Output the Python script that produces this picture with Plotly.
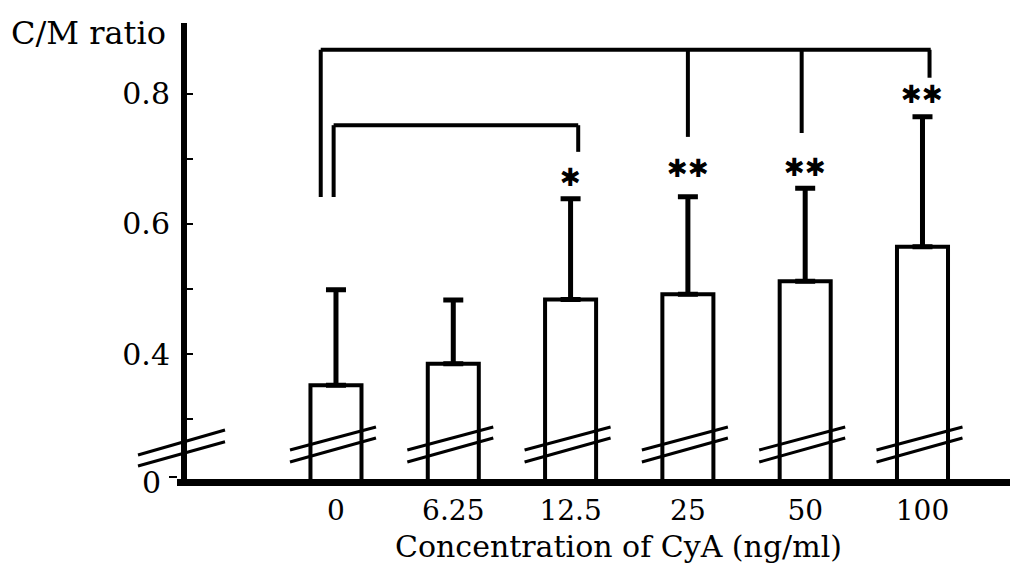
import plotly.graph_objects as go

# ---- data ----
categories = ["0", "6.25", "12.5", "25", "50", "100"]
means = [0.352, 0.385, 0.484, 0.492, 0.512, 0.565]
sds = [0.147, 0.098, 0.155, 0.150, 0.143, 0.200]
y_tick_vals = [0.3, 0.4, 0.5, 0.6, 0.7, 0.8]
y_tick_text = ["", "0.4", "", "0.6", "", "0.8"]

# significance: (category index, star text, star y)
sig_labels = ["*", "**", "**", "**"]
sig_idx = [2, 3, 4, 5]
sig_star_y = [0.672, 0.685, 0.687, 0.799]
# bracket levels (data units)
outer_top = 0.868
outer_left_bottom = 0.6415
inner_top = 0.752
inner_left_bottom = 0.6415
drop_bottoms = [0.711, 0.734, 0.740, 0.825]   # for 12.5 (inner), 25, 50, 100 (outer)

FONT = "DejaVu Serif"
W, H = 1010, 565
ML, MR, MT, MB = 187, 0, 23, 86
plot_h = H - MT - MB
plot_w = W - ML - MR

y_range = [0.2077, 0.9092]
x_range = [-1.270, 5.746]


def py2paper(py):
    return (H - MB - py) / plot_h


def px2paper(px):
    return (px - ML) / plot_w


fig = go.Figure()
fig.add_trace(go.Bar(
    x=categories, y=means, width=0.435,
    marker=dict(color="white", line=dict(color="black", width=4)),
    error_y=dict(type="data", symmetric=False, array=sds,
                 arrayminus=[0] * len(sds), color="black",
                 thickness=5, width=10),
    showlegend=False,
))

shapes = []
line_kw = dict(color="black", width=4)

# outer bracket (0 vs 25, 50, 100)
shapes.append(dict(type="line", xref="x", yref="y", x0=-0.13, x1=-0.13,
                   y0=outer_left_bottom, y1=outer_top, line=line_kw))
shapes.append(dict(type="line", xref="x", yref="y", x0=-0.13, x1=5.07,
                   y0=outer_top, y1=outer_top, line=line_kw))
for xi, yb in zip([3.0, 3.97, 5.06], drop_bottoms[1:]):
    shapes.append(dict(type="line", xref="x", yref="y", x0=xi, x1=xi,
                       y0=yb, y1=outer_top, line=line_kw))
# inner bracket (0 vs 12.5)
shapes.append(dict(type="line", xref="x", yref="y", x0=-0.02, x1=-0.02,
                   y0=inner_left_bottom, y1=inner_top, line=line_kw))
shapes.append(dict(type="line", xref="x", yref="y", x0=-0.02, x1=2.065,
                   y0=inner_top, y1=inner_top, line=line_kw))
shapes.append(dict(type="line", xref="x", yref="y", x0=2.065, x1=2.065,
                   y0=drop_bottoms[0], y1=inner_top, line=line_kw))

# break marks on every bar
brk_kw = dict(color="black", width=3)
for i in range(len(categories)):
    for ya, yb in [(0.2523, 0.2877), (0.2338, 0.2708)]:
        shapes.append(dict(type="line", xref="x", yref="y",
                           x0=i - 0.392, x1=i + 0.341, y0=ya, y1=yb,
                           line=brk_kw))
# break mark on the y axis (outside the plot area, paper coords)
for pya, pyb in [(455, 430), (466, 441.7)]:
    shapes.append(dict(type="line", xref="paper", yref="paper",
                       x0=px2paper(138), x1=px2paper(225),
                       y0=py2paper(pya), y1=py2paper(pyb), line=brk_kw))
# small dash at the "0" label and x-axis stub left of the y axis
shapes.append(dict(type="line", xref="paper", yref="paper",
                   x0=px2paper(169), x1=px2paper(177),
                   y0=py2paper(477), y1=py2paper(477),
                   line=dict(color="black", width=2)))
shapes.append(dict(type="line", xref="paper", yref="paper",
                   x0=px2paper(177), x1=px2paper(187),
                   y0=py2paper(482.5), y1=py2paper(482.5),
                   line=dict(color="black", width=7)))

annotations = []
for lab, i, sy in zip(sig_labels, sig_idx, sig_star_y):
    annotations.append(dict(x=i, y=sy, xref="x", yref="y",
                            text="✱" * len(lab), showarrow=False,
                            font=dict(family="DejaVu Sans", size=25, color="black")))
annotations.append(dict(xref="paper", yref="paper", x=0, y=1, xanchor="right",
                        yanchor="middle", xshift=-19, yshift=-10,
                        text="C/M ratio", showarrow=False,
                        font=dict(family=FONT, size=32, color="black")))
annotations.append(dict(xref="paper", yref="paper", x=0, y=0, xanchor="right",
                        yanchor="middle", xshift=-24, yshift=-3,
                        text="0", showarrow=False,
                        font=dict(family=FONT, size=30, color="black")))
annotations.append(dict(xref="paper", yref="paper", x=px2paper(618), y=0,
                        xanchor="center", yanchor="middle", yshift=-(546 - (H - MB)),
                        text="Concentration of CyA (ng/ml)", showarrow=False,
                        font=dict(family=FONT, size=30, color="black")))

fig.update_layout(
    width=W, height=H, autosize=False,
    margin=dict(l=ML, r=MR, t=MT, b=MB, pad=0),
    paper_bgcolor="white", plot_bgcolor="white",
    shapes=shapes, annotations=annotations,
    xaxis=dict(type="category", categoryorder="array", categoryarray=categories,
               range=x_range, showline=True, linecolor="black", linewidth=7,
               ticks="", showgrid=False, zeroline=False,
               tickfont=dict(family=FONT, size=28, color="black"),
               ticklabelstandoff=0),
    yaxis=dict(range=y_range, showline=True, linecolor="black", linewidth=6,
               tickvals=y_tick_vals, ticktext=y_tick_text,
               ticks="inside", ticklen=6, tickwidth=2, tickcolor="black",
               showgrid=False, zeroline=False,
               tickfont=dict(family=FONT, size=30, color="black"),
               ticklabelstandoff=5),
    font=dict(family=FONT, color="black"),
)

fig.write_html("out.html")
